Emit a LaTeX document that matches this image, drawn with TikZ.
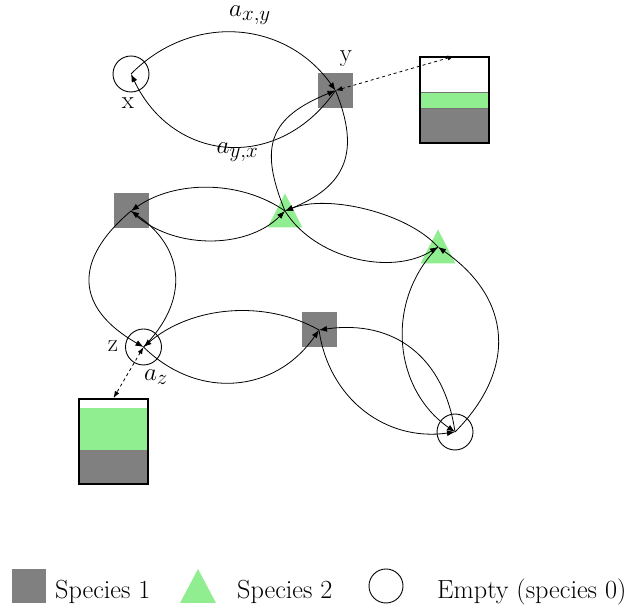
\documentclass[tikz,border=0pt]{standalone}
\usetikzlibrary{arrows.meta}
\DeclareFontShape{OML}{cmm}{m}{it}{<-6>cmmi5<6-7>cmmi6<7-8>cmmi7<8-9>cmmi8<9-10>cmmi9<10-12>cmmi10<12->cmmi12}{}
\DeclareMathSizes{25}{25}{21}{17}
\definecolor{spgray}{RGB}{128,128,128}
\definecolor{spgreen}{RGB}{144,238,144}
\begin{document}
\begin{tikzpicture}[x=1pt,y=1pt,
  every node/.style={font=\fontsize{25}{30}\selectfont},
  legtext/.style={inner sep=0pt,anchor=base west,font=\fontsize{26.2}{31}\selectfont},
  sq/.style={rectangle,fill=spgray,minimum size=35pt,inner sep=0pt},
  emp/.style={circle,draw=black,line width=0.9pt,minimum size=36pt,inner sep=0pt},
  link/.style={-{Latex[length=8pt,width=6pt]},line width=0.8pt},
  dlink/.style={{Latex[length=7pt,width=5pt]}-{Latex[length=7pt,width=5pt]},line width=0.8pt,dashed},
  boxb/.style={rectangle,draw=black,line width=1.8pt,inner sep=0pt},
  lbl/.style={inner sep=0pt}]
\useasboundingbox (0,0) rectangle (627,609);
% nodes
\node[emp] (x) at (131,535) {};
\node[sq] (y) at (335.5,518.5) {};
\node[sq] (A) at (131,398) {};
\coordinate (B) at (285,398);
\fill[spgreen] (B) ++(-17.5,-16.5) -- ++(35,0) -- ++(-17.5,34) -- cycle;
\coordinate (C) at (438,362);
\fill[spgreen] (C) ++(-17.5,-16.5) -- ++(35,0) -- ++(-17.5,34) -- cycle;
\node[emp] (z) at (143.5,262) {};
\node[sq] (D) at (319,279) {};
\node[emp] (E) at (455,177) {};
% boxes
\fill[spgreen,draw=black!55,line width=0.5pt] (420,501) rectangle (489,517);
\fill[spgray,draw=black!55,line width=0.5pt] (420,466) rectangle (489,501);
\node[boxb,minimum width=69pt,minimum height=86pt] (b1) at (454.5,509) {};
\fill[spgreen] (79,159) rectangle (148,201);
\fill[spgray] (79,125) rectangle (148,159);
\node[boxb,minimum width=69pt,minimum height=85pt] (b2) at (113.5,167.5) {};
% labels
\node[lbl] (lx) at (128,506) {x};
\node[lbl] (ly) at (346,550) {y};
\node[lbl] (lz) at (113,263) {z};
\node[lbl] (laz) at (156,232) {$a_z$};
\node[lbl] (laxy) at (250,593.5) {$a_{x,y}$};
\node[lbl] (layx) at (237.5,456.5) {$a_{y,x}$};
% arcs
\draw[link] (x.center) to[bend left=50, looseness=1.08] (y.center);
\draw[link] (y.center) to[bend left=60, looseness=1.24] (x.center);
\draw[link] (B.center) to[bend left=45, looseness=1.39] (y.center);
\draw[link] (y.center) to[bend left=45, looseness=1.3] (B.center);
\draw[link] (A.center) to[bend right=45, looseness=0.92] (B.center);
\draw[link] (B.center) to[bend right=35, looseness=0.9] (A.center);
\draw[link] (A.center) to[bend right=55, looseness=1.45] (z.center);
\draw[link] (z.center) to[bend right=50, looseness=1.23] (A.center);
\draw[link] (z.center) to[bend right=50, looseness=1.11] (D.center);
\draw[link] (D.center) to[bend right=35, looseness=0.91] (z.center);
\draw[link] (E.center) to[bend right=45, looseness=1.14] (D.center);
\draw[link] (D.center) to[bend right=45, looseness=1.05] (E.center);
\draw[link] (C.center) to[bend right=50, looseness=1.04] (E.center);
\draw[link] (E.center) to[bend right=50, looseness=1.23] (C.center);
\draw[link] (B.center) to[bend right=45, looseness=0.91] (C.center);
\draw[link] (C.center) to[bend right=35, looseness=0.75] (B.center);
% dashed
\draw[dlink] (y.center) -- (b1.north);
\draw[dlink] (z.center) -- (b2.north);
% legend
\node[sq,minimum size=34pt] (k1) at (28.5,23) {};
\node[legtext] (t1) at (55,10) {Species 1};
\coordinate (k2) at (198,23);
\fill[spgreen] (k2) ++(-18,-17) -- ++(36,0) -- ++(-18,34) -- cycle;
\node[legtext] (t2) at (237,10) {Species 2};
\node[emp,minimum size=34pt] (k3) at (386,23) {};
\node[legtext] (t3) at (437,10) {Empty (species 0)};
\end{tikzpicture}
\end{document}
